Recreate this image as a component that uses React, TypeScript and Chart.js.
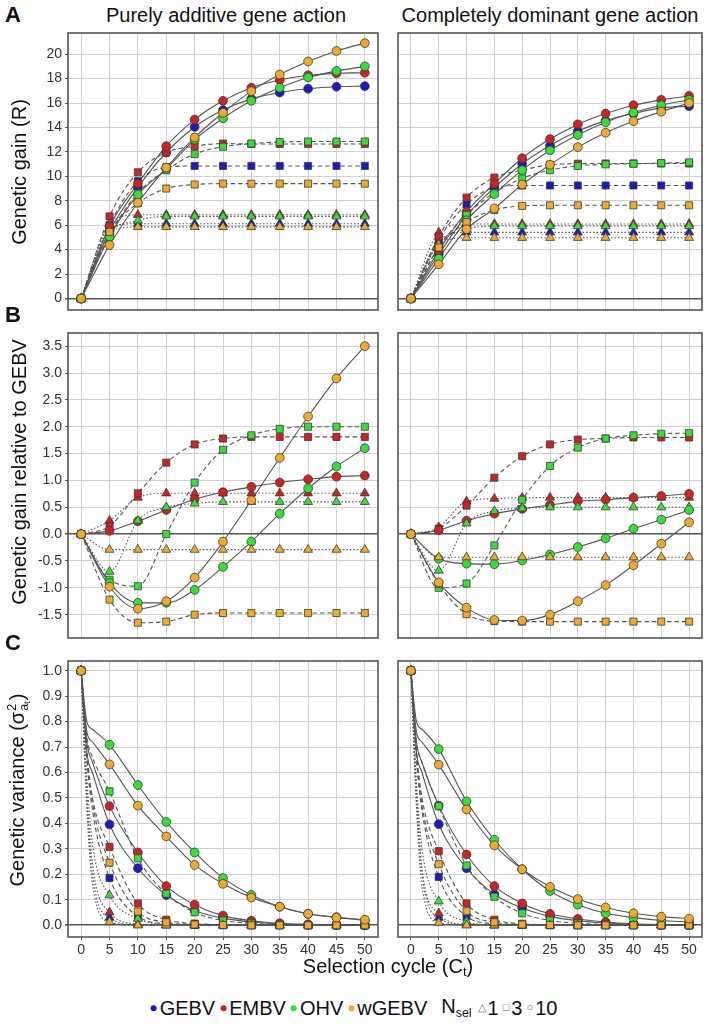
import React, { useEffect, useRef } from "react";
import { Chart, registerables } from "chart.js";

Chart.register(...registerables);

// ---------- axes ----------
const cycles = [0, 5, 10, 15, 20, 25, 30, 35, 40, 45, 50];
const cyclesC = [0, 1, 2, 5, 10, 15, 20, 25, 30, 35, 40, 45, 50];
const xTicks = [0, 5, 10, 15, 20, 25, 30, 35, 40, 45, 50];
const xTickLabels = ["0", "5", "10", "15", "20", "25", "30", "35", "40", "45", "50"];
const yTicksA = [0, 2, 4, 6, 8, 10, 12, 14, 16, 18, 20];
const yLabelsA = ["0", "2", "4", "6", "8", "10", "12", "14", "16", "18", "20"];
const yTicksB = [-1.5, -1, -0.5, 0, 0.5, 1, 1.5, 2, 2.5, 3, 3.5];
const yLabelsB = ["-1.5", "-1.0", "-0.5", "0.0", "0.5", "1.0", "1.5", "2.0", "2.5", "3.0", "3.5"];
const yTicksC = [0, 0.1, 0.2, 0.3, 0.4, 0.5, 0.6, 0.7, 0.8, 0.9, 1.0];
const yLabelsC = ["0.0", "0.1", "0.2", "0.3", "0.4", "0.5", "0.6", "0.7", "0.8", "0.9", "1.0"];

const methodNames = ["GEBV", "EMBV", "OHV", "wGEBV"];
const nselNames = ["1", "3", "10"];
const colTitles = ["Purely additive gene action", "Completely dominant gene action"];

// ---------- data: each array = [Nsel 1, Nsel 3, Nsel 10] ----------
// A: genetic gain, additive
const gainAdd_GEBV = [
  [0, 5.8, 6.12, 6.12, 6.12, 6.12, 6.12, 6.12, 6.12, 6.12, 6.12],
  [0, 6.0, 9.6, 10.75, 10.85, 10.85, 10.85, 10.85, 10.85, 10.85, 10.85],
  [0, 5.5, 9.1, 11.95, 14.04, 15.42, 16.34, 16.86, 17.17, 17.33, 17.38],
];
const gainAdd_EMBV = [
  [0, 6.07, 6.85, 6.85, 6.85, 6.85, 6.85, 6.85, 6.85, 6.85, 6.85],
  [0, 6.72, 10.33, 11.95, 12.47, 12.68, 12.65, 12.65, 12.65, 12.65, 12.65],
  [0, 5.9, 9.41, 12.47, 14.64, 16.18, 17.25, 17.88, 18.27, 18.43, 18.48],
];
const gainAdd_OHV = [
  [0, 5.3, 6.38, 6.72, 6.72, 6.72, 6.72, 6.72, 6.72, 6.72, 6.72],
  [0, 5.2, 8.63, 10.5, 11.82, 12.42, 12.68, 12.81, 12.85, 12.85, 12.85],
  [0, 5.07, 8.5, 10.6, 13.0, 14.75, 16.18, 17.25, 18.09, 18.62, 19.0],
];
const gainAdd_wGEBV = [
  [0, 5.5, 5.86, 5.86, 5.86, 5.86, 5.86, 5.86, 5.86, 5.86, 5.86],
  [0, 5.45, 7.8, 9.0, 9.33, 9.4, 9.4, 9.4, 9.4, 9.4, 9.4],
  [0, 4.37, 7.84, 10.72, 13.18, 15.2, 16.97, 18.33, 19.4, 20.26, 20.9],
];
// A: genetic gain, dominant
const gainDom_GEBV = [
  [0, 4.7, 5.41, 5.41, 5.41, 5.41, 5.41, 5.41, 5.41, 5.41, 5.41],
  [0, 4.8, 7.71, 9.07, 9.25, 9.25, 9.25, 9.25, 9.25, 9.25, 9.25],
  [0, 3.6, 6.8, 9.07, 11.03, 12.52, 13.7, 14.56, 15.14, 15.6, 15.74],
];
const gainDom_EMBV = [
  [0, 5.41, 6.1, 6.1, 6.1, 6.1, 6.1, 6.1, 6.1, 6.1, 6.1],
  [0, 5.07, 8.26, 9.9, 10.5, 10.95, 11.03, 11.05, 11.05, 11.05, 11.05],
  [0, 3.9, 7.1, 9.41, 11.48, 13.05, 14.25, 15.14, 15.82, 16.26, 16.58],
];
const gainDom_OHV = [
  [0, 4.5, 5.67, 5.93, 5.93, 5.93, 5.93, 5.93, 5.93, 5.93, 5.93],
  [0, 4.2, 6.85, 8.65, 9.83, 10.51, 10.85, 10.98, 11.03, 11.08, 11.14],
  [0, 3.27, 6.4, 8.55, 10.51, 12.13, 13.39, 14.43, 15.22, 15.82, 16.26],
];
const gainDom_wGEBV = [
  [0, 4.4, 4.97, 4.97, 4.97, 4.97, 4.97, 4.97, 4.97, 4.97, 4.97],
  [0, 4.18, 6.25, 7.24, 7.58, 7.63, 7.63, 7.63, 7.63, 7.63, 7.63],
  [0, 2.8, 5.67, 7.37, 9.33, 10.95, 12.39, 13.57, 14.51, 15.29, 16.0],
];
// B: gain relative to GEBV, additive
const relAdd_EMBV = [
  [0, 0.25, 0.68, 0.76, 0.76, 0.76, 0.76, 0.76, 0.76, 0.76, 0.76],
  [0, 0.15, 0.76, 1.33, 1.67, 1.78, 1.81, 1.81, 1.81, 1.81, 1.81],
  [0, 0.06, 0.24, 0.45, 0.65, 0.78, 0.88, 0.96, 1.02, 1.07, 1.09],
];
const relAdd_OHV = [
  [0, -0.7, 0.25, 0.5, 0.57, 0.6, 0.6, 0.6, 0.6, 0.6, 0.6],
  [0, -0.85, -0.97, 0.0, 0.96, 1.57, 1.84, 1.96, 2.0, 2.0, 2.0],
  [0, -0.91, -1.28, -1.28, -1.04, -0.61, -0.14, 0.38, 0.85, 1.26, 1.6],
];
const relAdd_wGEBV = [
  [0, -0.29, -0.29, -0.29, -0.29, -0.29, -0.29, -0.29, -0.29, -0.29, -0.29],
  [0, -1.22, -1.65, -1.63, -1.5, -1.47, -1.47, -1.47, -1.47, -1.47, -1.47],
  [0, -0.98, -1.39, -1.25, -0.81, -0.14, 0.63, 1.42, 2.19, 2.9, 3.5],
];
// B: gain relative to GEBV, dominant
const relDom_EMBV = [
  [0, 0.13, 0.61, 0.66, 0.68, 0.68, 0.68, 0.68, 0.68, 0.68, 0.68],
  [0, 0.1, 0.53, 1.05, 1.45, 1.67, 1.76, 1.78, 1.8, 1.8, 1.8],
  [0, 0.07, 0.25, 0.38, 0.47, 0.54, 0.61, 0.64, 0.68, 0.71, 0.75],
];
const relDom_OHV = [
  [0, -0.68, 0.2, 0.43, 0.48, 0.5, 0.5, 0.5, 0.5, 0.5, 0.5],
  [0, -1.0, -0.92, -0.21, 0.64, 1.27, 1.61, 1.78, 1.84, 1.87, 1.88],
  [0, -0.46, -0.55, -0.56, -0.49, -0.38, -0.24, -0.08, 0.1, 0.27, 0.45],
];
const relDom_wGEBV = [
  [0, -0.43, -0.43, -0.43, -0.43, -0.43, -0.43, -0.43, -0.43, -0.43, -0.43],
  [0, -0.93, -1.49, -1.62, -1.63, -1.63, -1.63, -1.63, -1.63, -1.63, -1.63],
  [0, -0.9, -1.37, -1.6, -1.61, -1.5, -1.25, -0.95, -0.58, -0.18, 0.22],
];
// C: genetic variance, additive (x = cyclesC)
const varAdd_GEBV = [
  [1, 0.5, 0.2, 0.03, 0.001, 0, 0, 0, 0, 0, 0, 0, 0],
  [1, 0.65, 0.45, 0.186, 0.035, 0.006, 0.001, 0, 0, 0, 0, 0, 0],
  [1, 0.68, 0.6, 0.396, 0.224, 0.119, 0.058, 0.028, 0.013, 0.005, 0.002, 0.001, 0],
];
const varAdd_EMBV = [
  [1, 0.52, 0.24, 0.051, 0.005, 0, 0, 0, 0, 0, 0, 0, 0],
  [1, 0.68, 0.5, 0.308, 0.086, 0.022, 0.007, 0.002, 0, 0, 0, 0, 0],
  [1, 0.72, 0.64, 0.468, 0.286, 0.154, 0.081, 0.038, 0.018, 0.008, 0.004, 0.002, 0.001],
];
const varAdd_OHV = [
  [1, 0.58, 0.32, 0.118, 0.026, 0.003, 0, 0, 0, 0, 0, 0, 0],
  [1, 0.74, 0.66, 0.526, 0.263, 0.124, 0.051, 0.019, 0.008, 0.003, 0.001, 0, 0],
  [1, 0.8, 0.77, 0.709, 0.551, 0.406, 0.286, 0.186, 0.119, 0.073, 0.045, 0.032, 0.019],
];
const varAdd_wGEBV = [
  [1, 0.46, 0.16, 0.013, 0, 0, 0, 0, 0, 0, 0, 0, 0],
  [1, 0.67, 0.48, 0.246, 0.054, 0.012, 0.003, 0.001, 0, 0, 0, 0, 0],
  [1, 0.76, 0.72, 0.632, 0.47, 0.349, 0.237, 0.163, 0.109, 0.073, 0.045, 0.03, 0.022],
];
// C: genetic variance, dominant (x = cyclesC)
const varDom_GEBV = [
  [1, 0.5, 0.2, 0.03, 0.001, 0, 0, 0, 0, 0, 0, 0, 0],
  [1, 0.65, 0.45, 0.19, 0.035, 0.006, 0.001, 0, 0, 0, 0, 0, 0],
  [1, 0.68, 0.6, 0.397, 0.224, 0.122, 0.068, 0.035, 0.018, 0.009, 0.004, 0.002, 0.001],
];
const varDom_EMBV = [
  [1, 0.52, 0.22, 0.047, 0.003, 0, 0, 0, 0, 0, 0, 0, 0],
  [1, 0.68, 0.5, 0.291, 0.086, 0.022, 0.006, 0.002, 0, 0, 0, 0, 0],
  [1, 0.72, 0.64, 0.47, 0.278, 0.154, 0.086, 0.045, 0.025, 0.013, 0.006, 0.003, 0.002],
];
const varDom_OHV = [
  [1, 0.56, 0.3, 0.094, 0.015, 0.001, 0, 0, 0, 0, 0, 0, 0],
  [1, 0.72, 0.64, 0.468, 0.235, 0.112, 0.047, 0.019, 0.008, 0.003, 0.001, 0, 0],
  [1, 0.8, 0.77, 0.692, 0.487, 0.336, 0.22, 0.135, 0.081, 0.047, 0.03, 0.019, 0.013],
];
const varDom_wGEBV = [
  [1, 0.46, 0.15, 0.01, 0, 0, 0, 0, 0, 0, 0, 0, 0],
  [1, 0.66, 0.47, 0.24, 0.055, 0.012, 0.003, 0.001, 0, 0, 0, 0, 0],
  [1, 0.76, 0.72, 0.631, 0.455, 0.314, 0.22, 0.151, 0.103, 0.07, 0.047, 0.034, 0.026],
];

// ---------- styles ----------
const FONT = '"Liberation Sans", Arial, Helvetica, sans-serif';
const methodColors = ["#1b1bc6", "#cf2222", "#33e033", "#f2a92a"];
const pointShapes = ["triangle", "rect", "circle"];
const pointRadii = [5.2, 5.0, 4.4];
const dashPatterns = [[1.5, 2], [4.5, 3], []];
const lineColor = "#555555";
const markerEdge = "#3a3a3a";
const gridColor = "#d0d0d0";

const colX = [
  [68, 384],
  [392, 708],
];
const rowY = [
  [27, 316],
  [327, 644],
  [655, 937],
];
const xRange = [-2.32, 52.32];
const yRanges = [
  [-0.94, 21.73],
  [-1.935, 3.745],
  [-0.046, 1.038],
];
const yTickSets = [yTicksA, yTicksB, yTicksC];
const yLabelSets = [yLabelsA, yLabelsB, yLabelsC];
const Y_AXIS_W = 48;
const X_AXIS_H = 24;

const panels = [
  { row: 0, col: 0, xs: cycles, methods: [0, 1, 2, 3], series: [gainAdd_GEBV, gainAdd_EMBV, gainAdd_OHV, gainAdd_wGEBV] },
  { row: 0, col: 1, xs: cycles, methods: [0, 1, 2, 3], series: [gainDom_GEBV, gainDom_EMBV, gainDom_OHV, gainDom_wGEBV] },
  { row: 1, col: 0, xs: cycles, methods: [1, 2, 3], series: [relAdd_EMBV, relAdd_OHV, relAdd_wGEBV] },
  { row: 1, col: 1, xs: cycles, methods: [1, 2, 3], series: [relDom_EMBV, relDom_OHV, relDom_wGEBV] },
  { row: 2, col: 0, xs: cyclesC, methods: [0, 1, 2, 3], series: [varAdd_GEBV, varAdd_EMBV, varAdd_OHV, varAdd_wGEBV] },
  { row: 2, col: 1, xs: cyclesC, methods: [0, 1, 2, 3], series: [varDom_GEBV, varDom_EMBV, varDom_OHV, varDom_wGEBV] },
];

const framePlugin = {
  id: "frame",
  afterDraw(chart: any) {
    const { ctx, chartArea: a } = chart;
    ctx.save();
    ctx.strokeStyle = "#555555";
    ctx.lineWidth = 1.6;
    ctx.strokeRect(a.left, a.top, a.right - a.left, a.bottom - a.top);
    ctx.restore();
  },
};

function buildConfig(p: any) {
  const datasets: any[] = [];
  let k = 0;
  p.series.forEach((triple: number[][], mi: number) => {
    const color = methodColors[p.methods[mi]];
    triple.forEach((vals: number[], ni: number) => {
      k += 1;
      const pts = p.xs.map((x: number, i: number) => ({ x, y: vals[i] }));
      datasets.push({
        data: pts,
        borderColor: lineColor,
        borderWidth: 1.1,
        borderDash: dashPatterns[ni],
        pointRadius: 0,
        pointHoverRadius: 0,
        fill: false,
        cubicInterpolationMode: "monotone",
        order: 100,
      });
      datasets.push({
        data: pts.filter((pt: any) => pt.x % 5 === 0),
        showLine: false,
        pointStyle: pointShapes[ni],
        pointRadius: pointRadii[ni],
        pointHoverRadius: pointRadii[ni],
        backgroundColor: color,
        borderColor: markerEdge,
        borderWidth: 0.8,
        order: -k,
        clip: false,
      });
    });
  });

  const showX = p.row === 2;
  const showY = p.col === 0;
  const yTicks = yTickSets[p.row];
  const yLabels = yLabelSets[p.row];

  return {
    type: "line",
    data: { datasets },
    plugins: [framePlugin],
    options: {
      responsive: false,
      maintainAspectRatio: false,
      animation: false,
      events: [],
      layout: { padding: 0 },
      plugins: { legend: { display: false }, tooltip: { enabled: false } },
      scales: {
        x: {
          type: "linear",
          min: xRange[0],
          max: xRange[1],
          afterBuildTicks: (s: any) => {
            s.ticks = xTicks.map((v) => ({ value: v }));
          },
          afterFit: (s: any) => {
            s.height = showX ? X_AXIS_H : 0;
            s.paddingLeft = 0;
            s.paddingRight = 0;
            s.paddingTop = 0;
            s.paddingBottom = 0;
          },
          ticks: {
            display: showX,
            autoSkip: false,
            maxRotation: 0,
            padding: 2,
            color: "#333333",
            font: { size: 14, family: FONT },
            callback: (_v: any, i: number) => xTickLabels[i],
          },
          grid: {
            color: gridColor,
            lineWidth: 1,
            drawTicks: showX,
            tickLength: 3,
            tickColor: "#555555",
          },
          border: { display: false },
        },
        y: {
          type: "linear",
          min: yRanges[p.row][0],
          max: yRanges[p.row][1],
          afterBuildTicks: (s: any) => {
            s.ticks = yTicks.map((v) => ({ value: v }));
          },
          afterFit: (s: any) => {
            s.width = showY ? Y_AXIS_W : 0;
            s.paddingLeft = 0;
            s.paddingRight = 0;
            s.paddingTop = 0;
            s.paddingBottom = 0;
          },
          ticks: {
            display: showY,
            autoSkip: false,
            padding: 3,
            color: "#333333",
            font: { size: 14, family: FONT },
            callback: (_v: any, i: number) => yLabels[i],
          },
          grid: {
            color: (c: any) => (c.tick && Math.abs(c.tick.value) < 1e-9 ? "#555555" : gridColor),
            lineWidth: (c: any) => (c.tick && Math.abs(c.tick.value) < 1e-9 ? 1.6 : 1),
            drawTicks: showY,
            tickLength: 3,
            tickColor: "#555555",
          },
          border: { display: false },
        },
      },
    },
  };
}

function Panel({ p }: { p: any }) {
  const ref = useRef<HTMLCanvasElement | null>(null);
  useEffect(() => {
    if (!ref.current) return;
    const chart = new Chart(ref.current, buildConfig(p) as any);
    return () => chart.destroy();
  }, [p]);
  const leftExtra = p.col === 0 ? Y_AXIS_W : 0;
  const bottomExtra = p.row === 2 ? X_AXIS_H : 0;
  const [fl, fr] = colX[p.col];
  const [ft, fb] = rowY[p.row];
  const w = fr - fl + leftExtra;
  const h = fb - ft + bottomExtra;
  return (
    <canvas
      ref={ref}
      width={w}
      height={h}
      style={{ position: "absolute", left: fl - leftExtra, top: ft, width: w, height: h, display: "block" }}
    />
  );
}

const abs = (x: number, y: number, extra: any = {}) => ({
  position: "absolute" as const,
  left: x,
  top: y,
  transform: "translate(-50%, -50%)",
  whiteSpace: "nowrap" as const,
  lineHeight: 1,
  ...extra,
});

export default function App() {
  return (
    <div
      style={{
        position: "absolute",
        left: 0,
        top: 0,
        width: 711,
        height: 1025,
        background: "#ffffff",
        fontFamily: FONT,
        color: "#111111",
        overflow: "hidden",
      }}
    >
      {panels.map((p, i) => (
        <Panel key={i} p={p} />
      ))}

      {/* row letters */}
      <div style={abs(13, 15, { fontWeight: "bold", fontSize: 22 })}>A</div>
      <div style={abs(13, 315, { fontWeight: "bold", fontSize: 22 })}>B</div>
      <div style={abs(13, 643, { fontWeight: "bold", fontSize: 22 })}>C</div>

      {/* column titles */}
      <div style={abs(226, 15, { fontSize: 20 })}>{colTitles[0]}</div>
      <div style={abs(550, 15, { fontSize: 20 })}>{colTitles[1]}</div>

      {/* y titles */}
      <div style={abs(19, 172, { fontSize: 20, transform: "translate(-50%, -50%) rotate(-90deg)" })}>
        Genetic gain (R)
      </div>
      <div style={abs(19, 472, { fontSize: 20, transform: "translate(-50%, -50%) rotate(-90deg)" })}>
        Genetic gain relative to GEBV
      </div>
      <div style={abs(19, 790, { fontSize: 20, transform: "translate(-50%, -50%) rotate(-90deg)" })}>
        Genetic variance (σ
        <span
          style={{
            display: "inline-flex",
            flexDirection: "column",
            fontSize: "0.62em",
            lineHeight: 1,
            verticalAlign: "middle",
            margin: "0 1px",
          }}
        >
          <span>2</span>
          <span>
            a<span style={{ fontSize: "0.8em", verticalAlign: "-0.2em" }}>t</span>
          </span>
        </span>
        )
      </div>

      {/* x title */}
      <div style={abs(388, 967, { fontSize: 20 })}>
        Selection cycle (C<span style={{ fontSize: "0.65em", verticalAlign: "-0.3em" }}>t</span>)
      </div>

      {/* legend */}
      <div style={abs(356, 1008, { fontSize: 20, display: "flex", alignItems: "center" })}>
        {methodNames.map((m, i) => (
          <span key={m} style={{ display: "inline-flex", alignItems: "center", marginRight: 5 }}>
            <span
              style={{
                display: "inline-block",
                width: 6,
                height: 6,
                borderRadius: 3,
                background: methodColors[i],
                marginRight: 3,
              }}
            />
            {m}
          </span>
        ))}
        <span style={{ marginLeft: 9, marginRight: 6 }}>
          N<span style={{ fontSize: "0.62em", verticalAlign: "-0.35em" }}>sel</span>
        </span>
        {nselNames.map((n, i) => (
          <span key={n} style={{ display: "inline-flex", alignItems: "center", marginRight: 4 }}>
            <span style={{ fontSize: 11, color: "#666", marginRight: 2 }}>{["△", "□", "○"][i]}</span>
            {n}
          </span>
        ))}
      </div>
    </div>
  );
}
